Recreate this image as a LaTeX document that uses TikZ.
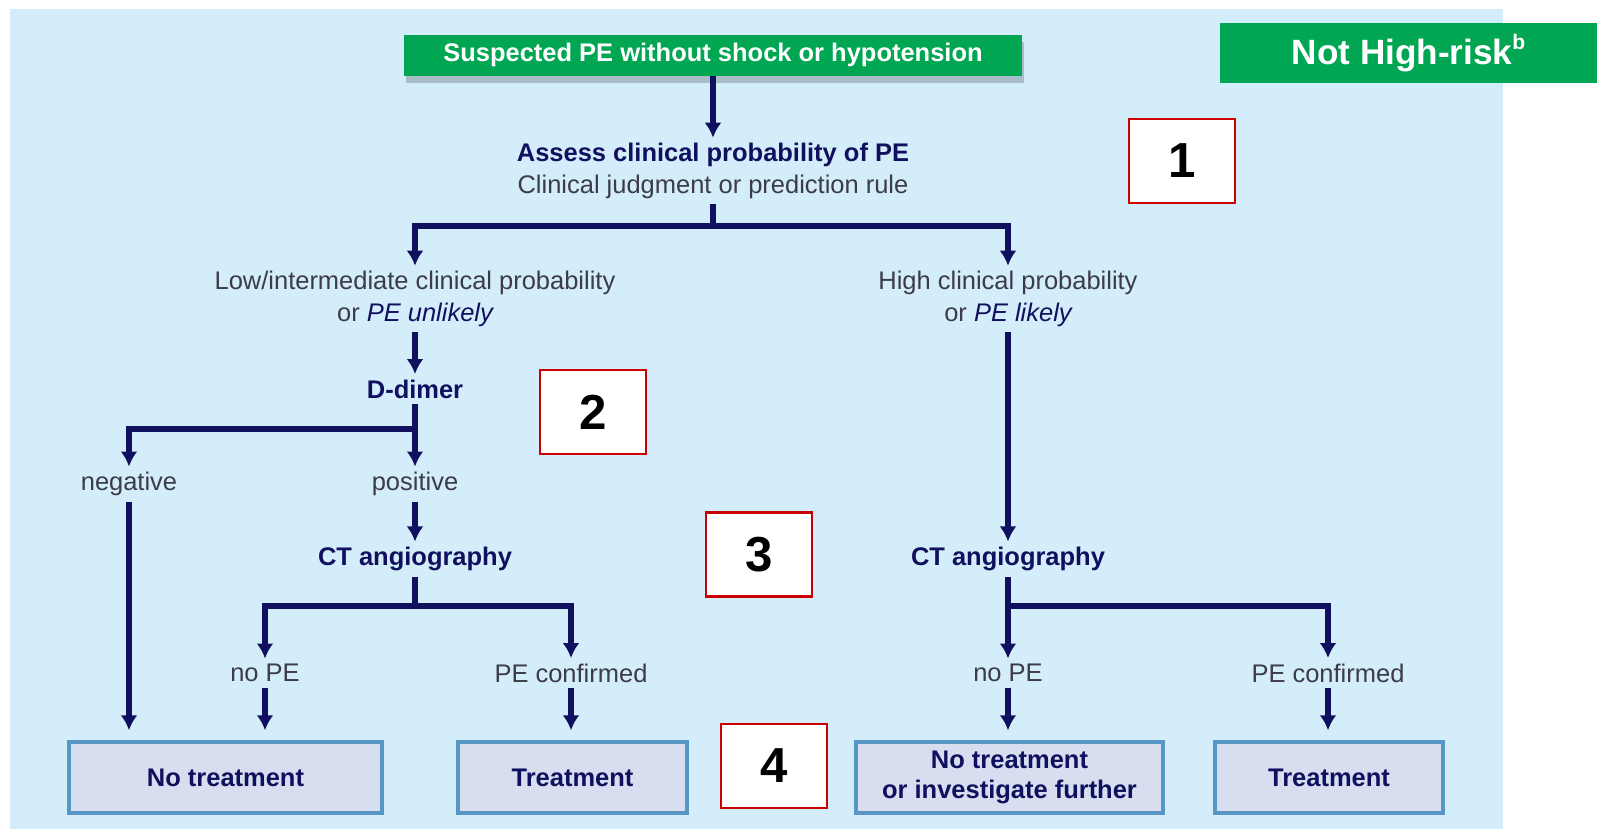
\documentclass[tikz,border=0pt]{standalone}
\usepackage{fontspec}
\setmainfont{Liberation Sans}
\usetikzlibrary{positioning, calc, arrows.meta, shadows}
\definecolor{panel}{RGB}{212,237,250}
\definecolor{peGreen}{RGB}{0,166,81}
\definecolor{navy}{RGB}{16,16,94}
\definecolor{txtGray}{RGB}{60,60,72}
\definecolor{boxFill}{RGB}{214,222,240}
\definecolor{boxLine}{RGB}{88,150,198}
\definecolor{numRed}{RGB}{204,0,0}

\begin{document}
\begin{tikzpicture}[x=0.02cm, y=-0.02cm,
  txt/.style = {text=txtGray, font=\fontsize{14.5}{18}\selectfont, align=center, inner sep=3pt},
  hd/.style = {txt, text=navy, font=\bfseries\fontsize{14.5}{18}\selectfont},
  greenbox/.style = {fill=peGreen, text=white, font=\bfseries\fontsize{14.5}{18}\selectfont},
  endbox/.style = {draw=boxLine, fill=boxFill, line width=2pt, text=navy, font=\bfseries\fontsize{14.5}{17}\selectfont, align=center, minimum height=1.42cm},
  numbox/.style = {draw=numRed, fill=white, line width=1.2pt, minimum width=2.12cm, minimum height=1.68cm, font=\bfseries\fontsize{28}{30}\selectfont},
  arr/.style = {-{Latex[length=3mm,width=3.4mm]}, navy, line width=3.2pt},
  wire/.style = {navy, line width=3.2pt}
]

\useasboundingbox (0,0) rectangle (1597,829);
\fill[panel] (10,9) rectangle (1503,829);

% headers
\node[greenbox, minimum width=12.36cm, minimum height=0.82cm, drop shadow={shadow xshift=1pt, shadow yshift=-4pt, opacity=0.2, fill=black}] (suspect) at (713,55) {Suspected PE without shock or hypotension};
\node[greenbox, font=\bfseries\fontsize{20}{24}\selectfont, minimum width=7.54cm, minimum height=1.2cm] (nothigh) at (1408.5,53) {Not High-risk\raisebox{0.42em}{\fontsize{12}{12}\selectfont b}};

% assess
\node[txt] (assess) at (713,171) {\textcolor{navy}{\bfseries Assess clinical probability of PE}\\Clinical judgment or prediction rule};

% probability
\node[txt] (low) at (415,299) {Low/intermediate clinical probability\\or \textcolor{navy}{\itshape PE unlikely}};
\node[txt] (high) at (1008,299) {High clinical probability\\or \textcolor{navy}{\itshape PE likely}};

% left branch
\node[hd] (ddimer) at (415,389) {D-dimer};
\node[txt] (neg) at (129,484) {negative};
\node[txt] (pos) at (415,484) {positive};
\node[hd] (ctl) at (415,559) {CT angiography};
\node[txt] (nopel) at (265,673) {no PE};
\node[txt] (pecl) at (571,673) {PE confirmed};

% right branch
\node[hd] (ctr) at (1008,559) {CT angiography};
\node[txt] (noper) at (1008,673) {no PE};
\node[txt] (pecr) at (1328,673) {PE confirmed};

% end boxes
\node[endbox, minimum width=6.26cm] (notreatl) at (225.5,777.5) {No treatment};
\node[endbox, minimum width=4.58cm] (treatl) at (572.5,777.5) {Treatment};
\node[endbox, minimum width=6.14cm] (further) at (1009.5,777.5) {No treatment\\or investigate further};
\node[endbox, minimum width=4.56cm] (treatr) at (1329,777.5) {Treatment};

% step numbers
\node[numbox] (num1) at (1182,161) {1};
\node[numbox] (num2) at (593,412) {2};
\node[numbox] (num3) at (759,554.5) {3};
\node[numbox] (num4) at (774,766) {4};

%--- suspect -> assess ---
\draw[arr] (suspect) -- (assess);

%--- assess -> low / high ---
\coordinate (split1) at (713,226);
\draw[wire] (assess.south) -- (split1);
\draw[arr] (split1) -| (low.north);
\draw[arr] (split1) -| (high.north);

%--- low -> ddimer -> neg / pos ---
\draw[arr] (low) -- (ddimer);
\coordinate (split2) at (415,429);
\draw[arr] (ddimer) -- (pos);
\draw[arr] (split2) -| (neg.north);
\draw[arr, shorten >=0.2cm] (neg.south) -- (neg.south |- notreatl.north);

%--- pos -> ctl -> no PE / PE confirmed ---
\draw[arr] (pos) -- (ctl);
\coordinate (split3) at (415,606);
\draw[wire] (ctl.south) -- (split3);
\draw[arr] (split3) -| (nopel.north);
\draw[arr] (split3) -| (pecl.north);
\draw[arr, shorten >=0.2cm] (nopel.south) -- (nopel.south |- notreatl.north);
\draw[arr, shorten >=0.2cm] (pecl.south) -- (pecl.south |- treatl.north);

%--- high -> ctr -> no PE / PE confirmed ---
\draw[arr] (high) -- (ctr);
\draw[arr] (ctr) -- (noper);
\coordinate (split4) at (1008,606);
\draw[arr] (split4) -| (pecr.north);
\draw[arr, shorten >=0.2cm] (noper.south) -- (noper.south |- further.north);
\draw[arr, shorten >=0.2cm] (pecr.south) -- (pecr.south |- treatr.north);

\end{tikzpicture}
\end{document}
